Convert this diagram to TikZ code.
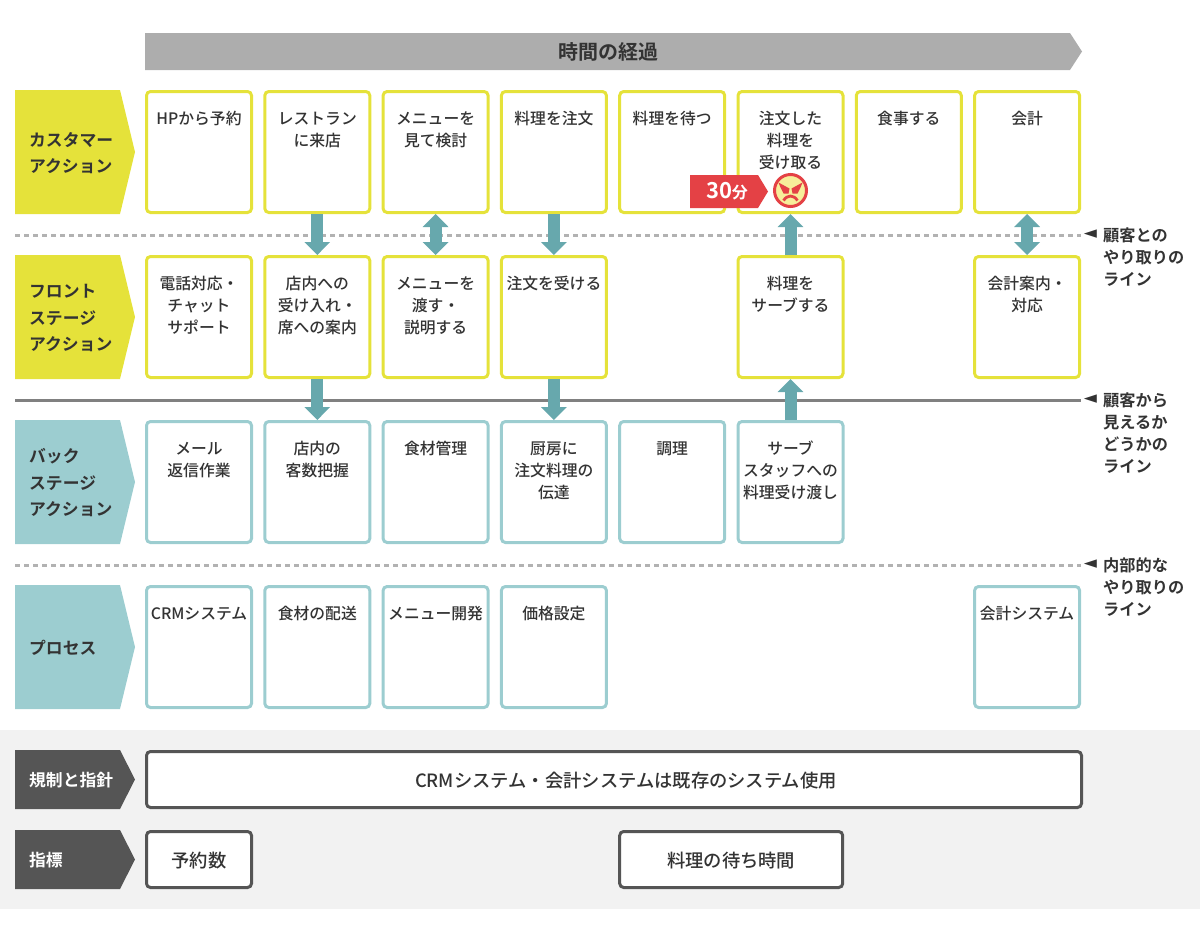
\documentclass[tikz,border=0pt]{standalone}
\usepackage{fontspec}
\setmainfont{Noto Sans CJK JP Medium}[BoldFont={Noto Sans CJK JP Bold}]
\newfontfamily\symfont{DejaVu Sans}
\usepackage{tikz}
\usetikzlibrary{positioning, arrows.meta, calc}
\definecolor{limeyellow}{HTML}{E5E23A}
\definecolor{paleteal}{HTML}{9CCDD0}
\definecolor{arrowteal}{HTML}{67A8AD}
\definecolor{darkgrey}{HTML}{555555}
\definecolor{inktext}{HTML}{333333}
\definecolor{bandgrey}{HTML}{F2F2F2}
\definecolor{headgrey}{HTML}{ADADAD}
\definecolor{dashgrey}{HTML}{B2B2B2}
\definecolor{linegrey}{HTML}{808080}
\definecolor{tagred}{HTML}{E44145}
\definecolor{faceyellow}{HTML}{F7EE9A}
\tikzset{
  actbox/.style={draw, line width=3pt, rounded corners=4pt, fill=white, inner sep=0pt,
    minimum width=105pt, text width=105pt, align=center, text height=33pt, text depth=88pt,
    text=inktext, font=\fontsize{15.8}{22}\selectfont},
  custbox/.style={actbox, draw=limeyellow},
  backbox/.style={actbox, draw=paleteal},
  notebox/.style={draw=darkgrey, line width=3pt, rounded corners=4pt, fill=white, inner sep=0pt,
    text height=35.5pt, text depth=20.5pt, text=inktext, font=\fontsize{18.3}{22}\selectfont},
  rowname/.style={anchor=west, align=left, inner sep=0pt, font=\bfseries\fontsize{16.8}{26.5}\selectfont},
  linenote/.style={anchor=north west, align=left, inner sep=0pt, text=inktext,
    font=\bfseries\fontsize{16.2}{22}\selectfont},
  linemark/.style={inner sep=0pt, text=inktext, font=\symfont\fontsize{17}{22}\selectfont},
  flowarrow/.style={draw=arrowteal, line width=12pt, -{Triangle[length=13pt,width=25pt]}},
  botharrow/.style={draw=arrowteal, line width=12pt, {Triangle[length=13pt,width=25pt]}-{Triangle[length=13pt,width=25pt]}},
  dashline/.style={draw=dashgrey, line width=3pt, dash pattern=on 5pt off 4pt}
}
\newcommand{\rowtag}[4]{\fill[#1] (15,#2) -- (120,#2) -- (135,{(#2+#3)/2}) -- (120,#3) -- (15,#3) -- cycle;
  \node[rowname, text=#4] at (29,{(#2+#3)/2+1})}
\begin{document}
\begin{tikzpicture}[x=1pt, y=-1pt]
  \useasboundingbox (0,0) rectangle (1200,943);
  \fill[bandgrey] (0,730) rectangle (1200,909);

  \fill[headgrey] (145,33) -- (1070,33) -- (1082,51.5) -- (1070,70) -- (145,70) -- cycle;
  \node[inner sep=0pt, text=inktext, font=\bfseries\fontsize{20}{24}\selectfont] (timehead) at (608.5,52) {時間の経過};

  \rowtag{limeyellow}{90}{214}{inktext} (tagcust) {カスタマー\\アクション};
  \rowtag{limeyellow}{255}{379}{inktext} (tagfront) {フロント\\ステージ\\アクション};
  \rowtag{paleteal}{420}{544}{inktext} (tagback) {バック\\ステージ\\アクション};
  \rowtag{paleteal}{585}{709}{inktext} (tagproc) {プロセス};
  \rowtag{darkgrey}{750}{809}{white} (tagrule) {規制と指針};
  \rowtag{darkgrey}{830}{889}{white} (tagkpi) {指標};

  \coordinate (dashAl) at (15,235);
  \coordinate (dashAr) at (1081,235);
  \coordinate (lineBl) at (15,400);
  \coordinate (lineBr) at (1081,400);
  \coordinate (dashCl) at (15,565);
  \coordinate (dashCr) at (1081,565);
  \draw[dashline] (dashAl) -- (dashAr);
  \draw[draw=linegrey, line width=3pt] (lineBl) -- (lineBr);
  \draw[dashline] (dashCl) -- (dashCr);

  \node[custbox, anchor=north west] (c1) at (145,90) {HPから予約};
  \node[custbox, right=10.3pt of c1] (c2) {レストラン\\に来店};
  \node[custbox, right=10.3pt of c2] (c3) {メニューを\\見て検討};
  \node[custbox, right=10.3pt of c3] (c4) {料理を注文};
  \node[custbox, right=10.3pt of c4] (c5) {料理を待つ};
  \node[custbox, right=10.3pt of c5] (c6) {注文した\\料理を\\受け取る};
  \node[custbox, right=10.3pt of c6] (c7) {食事する};
  \node[custbox, right=10.3pt of c7] (c8) {会計};

  \node[custbox, below=41pt of c1] (f1) {電話対応・\\チャット\\サポート};
  \node[custbox, below=41pt of c2] (f2) {店内への\\受け入れ・\\席への案内};
  \node[custbox, below=41pt of c3] (f3) {メニューを\\渡す・\\説明する};
  \node[custbox, below=41pt of c4] (f4) {注文を受ける};
  \node[custbox, below=41pt of c6] (f6) {料理を\\サーブする};
  \node[custbox, below=41pt of c8] (f8) {会計案内・\\対応};

  \node[backbox, below=41pt of f1] (b1) {メール\\返信作業};
  \node[backbox, below=41pt of f2] (b2) {店内の\\客数把握};
  \node[backbox, below=41pt of f3] (b3) {食材管理};
  \node[backbox, below=41pt of f4] (b4) {厨房に\\注文料理の\\伝達};
  \node[backbox, right=10.3pt of b4] (b5) {調理};
  \node[backbox, below=41pt of f6] (b6) {サーブ\\スタッフへの\\料理受け渡し};

  \node[backbox, below=41pt of b1] (p1) {CRMシステム};
  \node[backbox, below=41pt of b2] (p2) {食材の配送};
  \node[backbox, below=41pt of b3] (p3) {メニュー開発};
  \node[backbox, below=41pt of b4] (p4) {価格設定};
  \node[backbox, below=41pt of f8, yshift=-165pt] (p8) {会計システム};

  \draw[flowarrow] (c2.south) -- (f2.north);
  \draw[botharrow] (c3.south) -- (f3.north);
  \draw[flowarrow] (c4.south) -- (f4.north);
  \draw[flowarrow] (f6.north) -- (c6.south);
  \draw[botharrow] (c8.south) -- (f8.north);
  \draw[flowarrow] (f2.south) -- (b2.north);
  \draw[flowarrow] (f4.south) -- (b4.north);
  \draw[flowarrow] (b6.north) -- (f6.south);

  \fill[tagred] (690,175) -- (758,175) -- (768,191.5) -- (758,208) -- (690,208) -- cycle;
  \node[inner sep=0pt, text=white, font=\bfseries\fontsize{22}{24}\selectfont] (waittag) at (727,191.5) {30{\fontsize{16}{24}\selectfont 分}};
  \node[circle, draw=tagred, line width=3pt, fill=faceyellow, minimum size=32pt, inner sep=0pt] (angry) at (790.5,190.5) {};
  \fill[tagred] ($(angry)+(-12,-8)$) -- ($(angry)+(-1,-2)$) -- ($(angry)+(-2,3)$) -- ($(angry)+(-7,3)$) -- ($(angry)+(-10,-3)$) -- cycle;
  \fill[tagred] ($(angry)+(12,-8)$) -- ($(angry)+(1,-2)$) -- ($(angry)+(2,3)$) -- ($(angry)+(7,3)$) -- ($(angry)+(10,-3)$) -- cycle;
  \draw[tagred, line width=2.8pt] ($(angry)+(-7,10)$) .. controls ($(angry)+(-3,4)$) and ($(angry)+(3,4)$) .. ($(angry)+(7,10)$);

  \node[notebox, anchor=north west, minimum width=935pt] (rule) at (145,750) {\hspace*{24pt}CRMシステム・会計システムは既存のシステム使用};
  \node[notebox, anchor=north west, minimum width=105pt] (kpia) at (145,830) {予約数};
  \node[notebox, anchor=north west, minimum width=223pt] (kpib) at (618.2,830) {料理の待ち時間};

  \node[linemark] (marka) at (1090.5,234.5) {◄};
  \node[linemark] (markb) at (1090.5,399.5) {◄};
  \node[linemark] (markc) at (1090.5,564.5) {◄};
  \node[linenote] (notea) at (1103,228) {顧客との\\やり取りの\\ライン};
  \node[linenote] (noteb) at (1103,393) {顧客から\\見えるか\\どうかの\\ライン};
  \node[linenote] (notec) at (1103,558) {内部的な\\やり取りの\\ライン};
\end{tikzpicture}
\end{document}
